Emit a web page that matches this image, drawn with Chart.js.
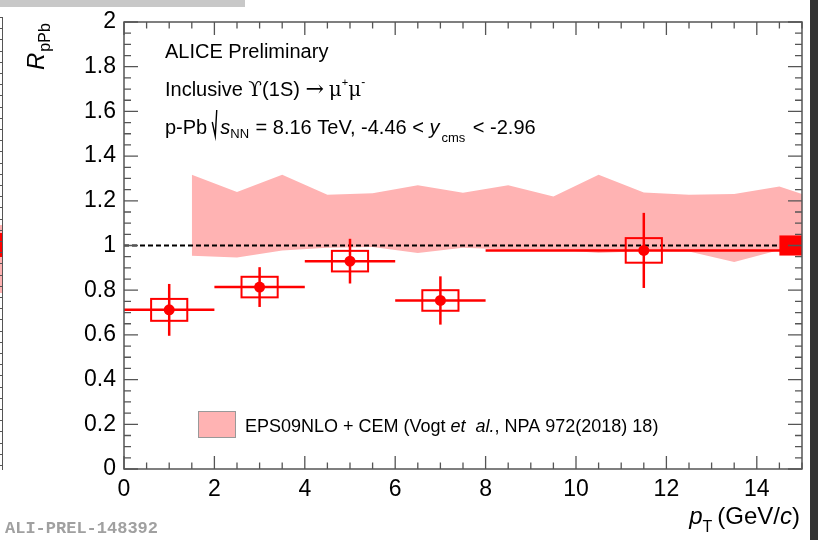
<!DOCTYPE html>
<html>
<head>
<meta charset="utf-8">
<script src="https://cdn.jsdelivr.net/npm/chart.js@4.4.1/dist/chart.umd.min.js"></script>
<style>
  body { margin: 0; background: #fff; }
  #wrap { position: relative; width: 818px; height: 540px; overflow: hidden; }
  #topBar { position: absolute; left: 0; top: 0; width: 245px; height: 7px; background: #c8c8c8; }
  #rightStrip { position: absolute; left: 810px; top: 0; width: 8px; height: 540px; background: #333; }
  #leftAxis { position: absolute; left: 2px; top: 17px; width: 1px; height: 453px; background: #555; }
  #leftTicks { position: absolute; left: 0; top: 17px; width: 2px; height: 453px;
    background: repeating-linear-gradient(to bottom, #555 0 1px, transparent 1px 11.2px); }
  #leftBand { position: absolute; left: 0; top: 225px; width: 2px; height: 68px; background: #ffb3b3; }
  #leftBox { position: absolute; left: 0; top: 233px; width: 2px; height: 24px; background: #f00; }
</style>
</head>
<body>
<div id="wrap">
  <canvas id="myChart" width="818" height="540"></canvas>
  <div id="topBar"></div>
  <div id="rightStrip"></div>
  <div id="leftBand"></div>
  <div id="leftBox"></div>
  <div id="leftAxis"></div>
  <div id="leftTicks"></div>
</div>
<script>
// Upsilon(1S) R_pPb vs pT, backward rapidity
const ptCenter = [1, 3, 5, 7, 11.5];
const ptLow = [0, 2, 4, 6, 8];
const ptHigh = [2, 4, 6, 8, 15];
const rpPb = [0.712, 0.814, 0.930, 0.754, 0.978];
const statErr = [0.116, 0.089, 0.100, 0.108, 0.168];
const sysErr = [0.049, 0.046, 0.046, 0.046, 0.055];
const globalSys = 0.045;

// EPS09NLO + CEM band
const modelPt = [1.5, 2.5, 3.5, 4.5, 5.5, 6.5, 7.5, 8.5, 9.5, 10.5, 11.5, 12.5, 13.5, 14.5, 15];
const modelHigh = [1.316, 1.239, 1.316, 1.227, 1.234, 1.27, 1.236, 1.27, 1.219, 1.316, 1.237, 1.227, 1.23, 1.264, 1.23];
const modelLow = [0.954, 0.946, 0.978, 0.99, 0.993, 0.966, 0.99, 0.982, 0.983, 0.966, 0.975, 0.973, 0.926, 0.98, 0.975];

const xTicks = [0, 2, 4, 6, 8, 10, 12, 14];
const yTicks = [0, 0.2, 0.4, 0.6, 0.8, 1, 1.2, 1.4, 1.6, 1.8, 2];

const RED = "#ff0000";
const PINK = "#ffb3b3";
const SANS = "'Liberation Sans', Arial, sans-serif";
const SERIF = "'DejaVu Serif', 'Liberation Serif', serif";

// draw a row of text pieces with different fonts / offsets
function drawRuns(ctx, x, y, runs) {
  runs.forEach((r) => {
    if (r.sqrt) {
      ctx.save();
      ctx.strokeStyle = "#000";
      ctx.lineWidth = 1.4;
      ctx.beginPath();
      ctx.moveTo(x, y - 12);
      ctx.lineTo(x + 3, y + 2);
      ctx.lineTo(x + 4.5, y - 24);
      ctx.stroke();
      ctx.restore();
      x += 8;
      return;
    }
    ctx.font = r.font;
    ctx.fillText(r.text, x, y + (r.dy || 0));
    x += ctx.measureText(r.text).width + (r.gap || 0);
  });
  return x;
}

function runsWidth(ctx, runs) {
  let w = 0;
  runs.forEach((r) => {
    ctx.font = r.font;
    w += ctx.measureText(r.text).width + (r.gap || 0);
  });
  return w;
}

// error bars, systematic boxes and global uncertainty
const errorBars = {
  id: "errorBars",
  afterDatasetsDraw(chart) {
    const ctx = chart.ctx;
    const xs = chart.scales.x;
    const ys = chart.scales.y;
    const area = chart.chartArea;
    ctx.save();
    ctx.beginPath();
    ctx.rect(area.left, area.top, area.right - area.left, area.bottom - area.top);
    ctx.clip();
    ctx.strokeStyle = RED;
    for (let i = 0; i < ptCenter.length; i++) {
      const px = xs.getPixelForValue(ptCenter[i]);
      const py = ys.getPixelForValue(rpPb[i]);
      // bin width
      ctx.lineWidth = 2.5;
      ctx.beginPath();
      ctx.moveTo(xs.getPixelForValue(ptLow[i]), py);
      ctx.lineTo(xs.getPixelForValue(ptHigh[i]), py);
      ctx.stroke();
      // statistical
      ctx.beginPath();
      ctx.moveTo(px, ys.getPixelForValue(rpPb[i] + statErr[i]));
      ctx.lineTo(px, ys.getPixelForValue(rpPb[i] - statErr[i]));
      ctx.stroke();
      // systematic box
      const bx0 = xs.getPixelForValue(ptCenter[i] - 0.4);
      const bx1 = xs.getPixelForValue(ptCenter[i] + 0.4);
      const by0 = ys.getPixelForValue(rpPb[i] + sysErr[i]);
      const by1 = ys.getPixelForValue(rpPb[i] - sysErr[i]);
      ctx.lineWidth = 2;
      ctx.strokeRect(bx0, by0, bx1 - bx0, by1 - by0);
    }
    // global uncertainty at unity
    const gx0 = xs.getPixelForValue(14.5);
    const gx1 = xs.getPixelForValue(15);
    const gy0 = ys.getPixelForValue(1 + globalSys);
    const gy1 = ys.getPixelForValue(1 - globalSys);
    ctx.fillStyle = RED;
    ctx.fillRect(gx0, gy0, gx1 - gx0, gy1 - gy0);
    ctx.restore();
  },
};

// frame, inward ticks and all the text
const frameAndText = {
  id: "frameAndText",
  afterDraw(chart) {
    const ctx = chart.ctx;
    const xs = chart.scales.x;
    const ys = chart.scales.y;
    const { left, right, top, bottom } = chart.chartArea;
    ctx.save();
    ctx.strokeStyle = "#555";
    ctx.lineWidth = 1.5;
    ctx.strokeRect(left, top, right - left, bottom - top);
    ctx.lineWidth = 1.3;
    ctx.beginPath();
    for (let k = 0; k <= 40; k++) {
      const v = k * 0.05;
      const len = k % 4 === 0 ? 14 : 7;
      const py = ys.getPixelForValue(v);
      ctx.moveTo(left, py);
      ctx.lineTo(left + len, py);
      ctx.moveTo(right, py);
      ctx.lineTo(right - len, py);
    }
    for (let k = 0; k <= 30; k++) {
      const v = k * 0.5;
      const len = k % 4 === 0 ? 13 : 6.5;
      const px = xs.getPixelForValue(v);
      ctx.moveTo(px, bottom);
      ctx.lineTo(px, bottom - len);
      ctx.moveTo(px, top);
      ctx.lineTo(px, top + len);
    }
    ctx.stroke();

    ctx.fillStyle = "#000";
    ctx.textBaseline = "alphabetic";
    ctx.textAlign = "left";
    const f20 = "20px " + SANS;
    const s13 = "13px " + SANS;
    drawRuns(ctx, 165, 58, [{ text: "ALICE Preliminary", font: f20 }]);
    drawRuns(ctx, 165, 96, [
      { text: "Inclusive ", font: f20 },
      { text: "\u03D2", font: "20px " + SERIF },
      { text: "(1S) ", font: f20 },
      { text: "\u2192", font: "22px " + SERIF, gap: 5 },
      { text: "\u03BC", font: "20px " + SERIF },
      { text: "+", font: "11px " + SANS, dy: -10 },
      { text: "\u03BC", font: "20px " + SERIF },
      { text: "-", font: "12px " + SANS, dy: -10 },
    ]);
    drawRuns(ctx, 165, 134, [
      { text: "p-Pb", font: f20, gap: 5 },
      { sqrt: true },
      { text: "s", font: "italic 20px " + SANS },
      { text: "NN", font: s13, dy: 4, gap: 1 },
      { text: " = 8.16 TeV, -4.46 < ", font: f20 },
      { text: "y", font: "italic 20px " + SANS, gap: 2 },
      { text: "cms", font: s13, dy: 8, gap: 2 },
      { text: " < -2.96", font: f20 },
    ]);

    // legend entry
    const lx = 198, ly = 411;
    ctx.fillStyle = PINK;
    ctx.fillRect(lx, ly, 38, 27);
    ctx.strokeStyle = "#999";
    ctx.lineWidth = 1;
    ctx.strokeRect(lx + 0.5, ly + 0.5, 37, 26);
    ctx.fillStyle = "#000";
    const f18 = "18px " + SANS;
    drawRuns(ctx, 245, 432, [
      { text: "EPS09NLO + CEM (Vogt ", font: f18 },
      { text: "et  al.", font: "italic 18px " + SANS },
      { text: ", NPA 972(2018) 18)", font: f18 },
    ]);

    // x title, right aligned
    const xRuns = [
      { text: "p", font: "italic 24px " + SANS },
      { text: "T", font: "16px " + SANS, dy: 8, gap: 5 },
      { text: "(GeV/", font: "24px " + SANS },
      { text: "c", font: "italic 24px " + SANS },
      { text: ")", font: "24px " + SANS },
    ];
    drawRuns(ctx, 800 - runsWidth(ctx, xRuns), 524, xRuns);

    // y title, rotated
    ctx.save();
    ctx.translate(44, 70);
    ctx.rotate(-Math.PI / 2);
    drawRuns(ctx, 0, 0, [
      { text: "R", font: "italic 24px " + SANS, gap: 1 },
      { text: "pPb", font: "16px " + SANS, dy: 6 },
    ]);
    ctx.restore();

    ctx.fillStyle = "#a0a0a0";
    ctx.font = "bold 17px 'Liberation Mono', 'Courier New', monospace";
    ctx.fillText("ALI-PREL-148392", 5, 533);
    ctx.restore();
  },
};

const bandUpper = modelPt.map((x, i) => ({ x: x, y: modelHigh[i] }));
const bandLower = modelPt.map((x, i) => ({ x: x, y: modelLow[i] }));
const points = ptCenter.map((x, i) => ({ x: x, y: rpPb[i] }));

new Chart(document.getElementById("myChart").getContext("2d"), {
  type: "line",
  data: {
    datasets: [
      {
        data: points,
        showLine: false,
        pointRadius: 5.5,
        pointBackgroundColor: RED,
        pointBorderWidth: 0,
        order: 0,
      },
      {
        data: [{ x: 0, y: 1 }, { x: 15, y: 1 }],
        borderColor: "#000",
        borderWidth: 2,
        borderDash: [5, 3],
        pointRadius: 0,
        order: 1,
      },
      {
        data: bandUpper,
        borderWidth: 0,
        pointRadius: 0,
        fill: false,
        order: 3,
      },
      {
        data: bandLower,
        borderWidth: 0,
        pointRadius: 0,
        backgroundColor: PINK,
        fill: "-1",
        order: 2,
      },
    ],
  },
  options: {
    responsive: false,
    animation: false,
    layout: { padding: { left: 0, right: 16, top: 22, bottom: 0 } },
    plugins: { legend: { display: false }, tooltip: { enabled: false } },
    scales: {
      x: {
        type: "linear",
        min: 0,
        max: 15,
        grid: { display: false, drawTicks: false },
        border: { display: false },
        afterFit: (scale) => { scale.height = 71; },
        afterBuildTicks: (scale) => { scale.ticks = xTicks.map((v) => ({ value: v })); },
        ticks: {
          padding: 7,
          color: "#000",
          font: { family: SANS, size: 23 },
          maxRotation: 0,
          callback: (v) => String(v),
        },
      },
      y: {
        type: "linear",
        min: 0,
        max: 2,
        grid: { display: false, drawTicks: false },
        border: { display: false },
        afterFit: (scale) => { scale.width = 124; },
        afterBuildTicks: (scale) => { scale.ticks = yTicks.map((v) => ({ value: v })); },
        ticks: {
          padding: 8,
          color: "#000",
          font: { family: SANS, size: 23 },
          callback: (v) => String(+v.toFixed(1)),
        },
      },
    },
  },
  plugins: [errorBars, frameAndText],
});
</script>
</body>
</html>
